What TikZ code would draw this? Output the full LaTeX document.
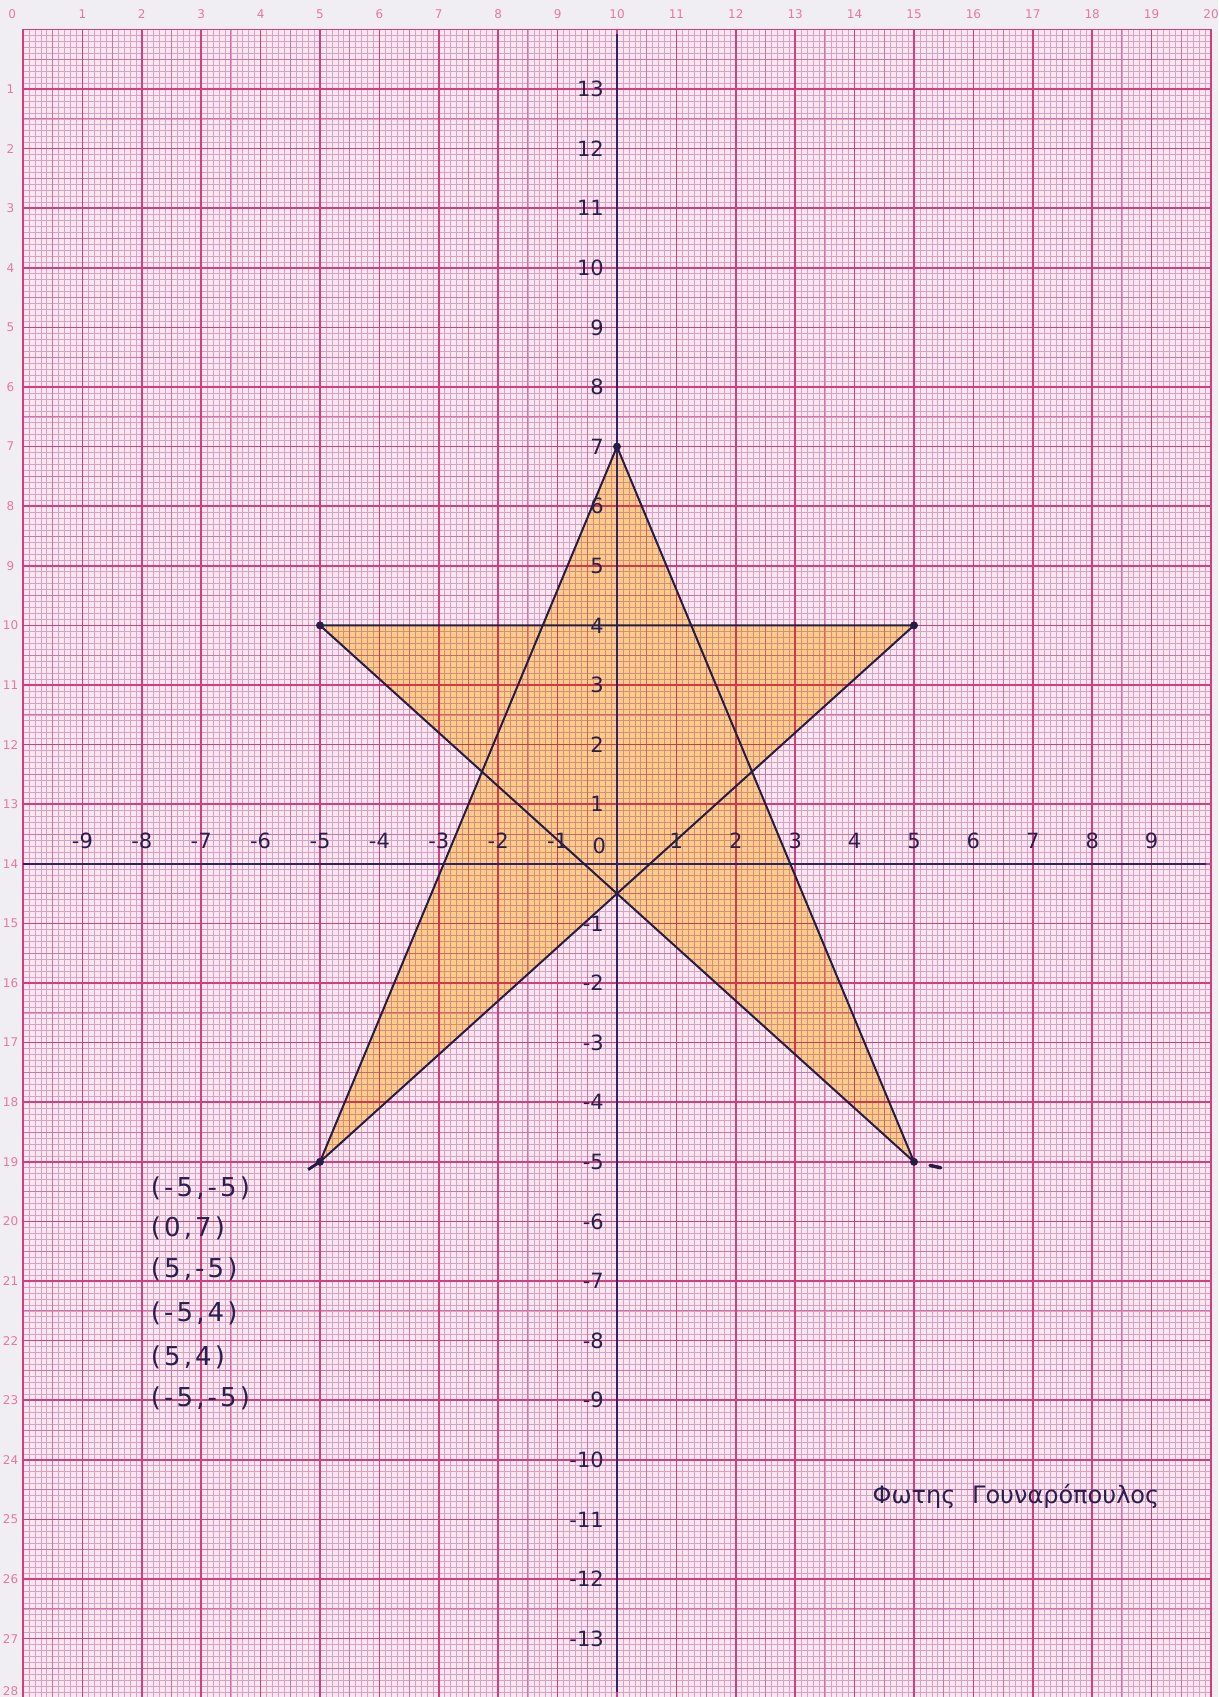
\documentclass[tikz,border=0pt]{standalone}
\usepackage{fontspec}
\setmainfont{DejaVu Sans}
\newfontfamily\handfont{DejaVu Sans}
\newfontfamily\listfont[LetterSpace=12]{DejaVu Sans}
\definecolor{pagebg}{RGB}{240,238,242}
\definecolor{paperbg}{RGB}{250,232,241}
\definecolor{mmline}{RGB}{218,160,198}
\definecolor{halfline}{RGB}{210,115,168}
\definecolor{cmline}{RGB}{214,60,128}
\definecolor{pinknum}{RGB}{232,120,160}
\definecolor{ink}{RGB}{40,32,78}
\definecolor{axisink}{RGB}{52,32,104}
\definecolor{starfill}{RGB}{255,226,150}
\tikzset{
  mmgrid/.style={draw=mmline, line width=0.6pt},
  halfgrid/.style={draw=halfline, line width=0.9pt},
  cmgrid/.style={draw=cmline, line width=1.6pt},
  papernum/.style={text=pinknum, font=\fontsize{12}{12}\selectfont, inner sep=0pt},
  axisline/.style={draw=axisink, line width=2.6pt},
  edge/.style={draw=ink!90!black, line width=2pt, line join=round},
  starshade/.style={fill=starfill, blend mode=multiply},
  lab/.style={text=ink, font=\handfont\fontsize{21}{21}\selectfont, inner sep=0pt},
  listlab/.style={text=ink, font=\listfont\fontsize{26}{28}\selectfont, inner sep=0pt, anchor=west},
  sign/.style={text=ink, font=\handfont\fontsize{24}{26}\selectfont, inner sep=0pt, anchor=west},
  vdot/.style={fill=ink!90!black}
}
\begin{document}
\begin{tikzpicture}[x=1pt,y=-1pt]
\useasboundingbox (0,0) rectangle (1218,1697);
\clip (0,0) rectangle (1218,1697);
\fill[pagebg] (0,0) rectangle (1218,1697);
\begin{scope}[shift={(23,29.4)}, x=59.4pt, y=-59.6pt]
  % graph paper
  \fill[paperbg] (0,0) rectangle (20,28.7);
  \foreach \i in {0,...,200} \draw[mmgrid] (\i/10,0) -- (\i/10,28.7);
  \foreach \j in {0,...,287} \draw[mmgrid] (0,\j/10) -- (20,\j/10);
  \foreach \i in {0,...,40} \draw[halfgrid] (\i/2,0) -- (\i/2,28.7);
  \foreach \j in {0,...,57} \draw[halfgrid] (0,\j/2) -- (20,\j/2);
  \foreach \i in {0,...,20} \draw[cmgrid] (\i,0) -- (\i,28.7);
  \foreach \j in {0,...,28} \draw[cmgrid] (0,\j) -- (20,\j);
  % margin numbers
  \node[papernum] (t0) at (-0.18,-0.25) {0};
  \foreach \i in {1,...,20} \node[papernum] (t\i) at (\i,-0.25) {\i};
  \foreach \j in {1,...,27} \node[papernum] (s\j) at (-0.21,\j) {\j};
  \node[papernum, anchor=south] (s28) at (-0.21,27.96) {28};
  % math coordinates
  \begin{scope}[shift={(10,14)}, y=59.6pt]
    \coordinate (A) at (-5,-5);
    \coordinate (B) at (0,7);
    \coordinate (C) at (5,-5);
    \coordinate (D) at (-5,4);
    \coordinate (E) at (5,4);
    \fill[starshade] (A) -- (B) -- (C) -- (D) -- (E) -- cycle;
    % axes
    \coordinate (xl) at (-10,0);
    \coordinate (xr) at (9.92,0);
    \coordinate (yt) at (0,13.93);
    \coordinate (yb) at (0,-13.9);
    \draw[axisline] (xl) -- (xr);
    \draw[axisline] (yt) -- (yb);
    % star edges
    \draw[edge] (A) -- (B) -- (C) -- (D) -- (E) -- cycle;
    \foreach \p in {A,B,C,D,E} \fill[vdot] (\p) circle (4pt);
    \coordinate (ta1) at (-5.2,-5.13);
    \coordinate (tc1) at (5.27,-5.06);
    \coordinate (tc2) at (5.45,-5.1);
    \draw[edge, line width=3pt] (A) -- (ta1);
    \draw[edge, line width=3.5pt, line cap=round] (tc1) -- (tc2);
    % x-axis labels
    \foreach \k in {-9,-8,-7,-6,-5,-4,-3,-2,-1,1,2,3,4,5,6,7,8,9}
      \node[lab] (xlab\k) at (\k,0.38) {\k};
    \node[lab] (xlab0) at (-0.3,0.3) {0};
    % y-axis labels
    \foreach \k in {1,...,13} \node[lab, anchor=east] (ylabp\k) at (-0.22,\k) {\k};
    \foreach \k in {1,...,13} \node[lab, anchor=east] (ylabm\k) at (-0.22,-\k) {-\k};
    % list of points
    \node[listlab] (l1) at (-7.85,-5.44) {(-5,-5)};
    \node[listlab] (l2) at (-7.85,-6.12) {(0,7)};
    \node[listlab] (l3) at (-7.85,-6.8) {(5,-5)};
    \node[listlab] (l4) at (-7.85,-7.55) {(-5,4)};
    \node[listlab] (l5) at (-7.85,-8.28) {(5,4)};
    \node[listlab] (l6) at (-7.85,-8.97) {(-5,-5)};
    % signature
    \node[sign] (sig) at (4.3,-10.62) {Φωτης\hspace{0.7em}Γουναρόπουλος};
  \end{scope}
\end{scope}
\end{tikzpicture}
\end{document}
